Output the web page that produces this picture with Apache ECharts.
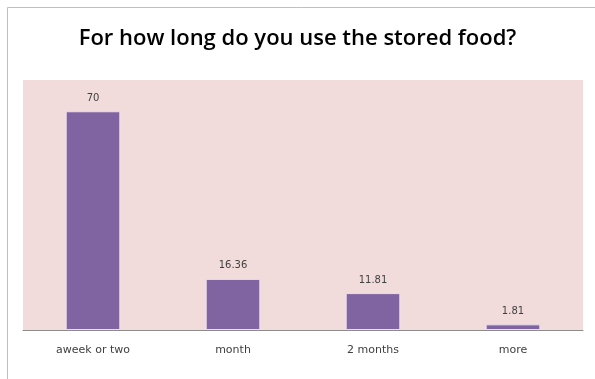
<!DOCTYPE html>
<html><head><meta charset="utf-8">
<script src="https://cdn.jsdelivr.net/npm/echarts@6/dist/echarts.min.js"></script>
<style>html,body{margin:0;padding:0;background:#fff}#c{width:595px;height:379px}</style>
</head><body><div id="c"></div>
<script>
const titleText = "For how long do you use the stored food?";
const categories = ["aweek or two", "month", "2 months", "more"];
const values = [70, 16.36, 11.81, 1.81];
const yMax = 80;

const chart = echarts.init(document.getElementById('c'), null, {renderer: 'canvas'});
chart.setOption({
  animation: false,
  backgroundColor: '#ffffff',
  graphic: [{
    type: 'rect', shape: {x: 7.5, y: 7.5, width: 600, height: 400},
    style: {fill: 'none', stroke: '#bfbfbf', lineWidth: 1}, silent: true, z: -10
  }],
  title: {
    text: titleText, left: 'center', top: 23,
    textStyle: {fontFamily: 'Open Sans', fontWeight: 600, fontSize: 22, color: '#000'}
  },
  grid: {left: 23, right: 12, top: 80, bottom: 49, containLabel: false,
    show: true, backgroundColor: '#f2dcdb', borderWidth: 0},
  xAxis: {
    type: 'category', data: categories,
    axisLine: {lineStyle: {color: '#8c8c8c', width: 1}},
    axisTick: {show: false},
    axisLabel: {color: '#404040', fontFamily: 'DejaVu Sans', fontSize: 11, margin: 15}
  },
  yAxis: {
    type: 'value', min: 0, max: yMax, show: false,
    splitLine: {show: false}
  },
  series: [{
    type: 'bar', data: values, barWidth: '39%',
    itemStyle: {color: '#8064a2', borderColor: '#e6e0ec', borderWidth: 1},
    label: {show: true, position: 'top', distance: 8, color: '#404040',
      fontFamily: 'DejaVu Sans', fontSize: 10}
  }]
});
</script></body></html>
